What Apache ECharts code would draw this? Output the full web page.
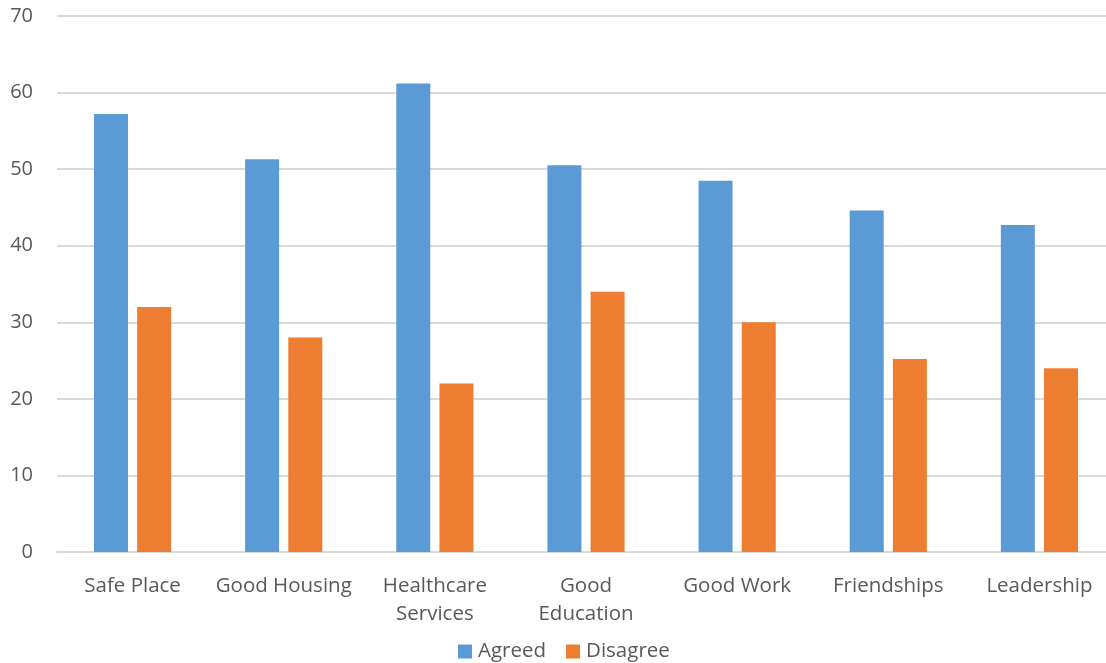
<!DOCTYPE html>
<html>
<head>
<meta charset="utf-8">
<script src="https://cdn.jsdelivr.net/npm/echarts@6/dist/echarts.min.js"></script>
<style>
  html, body { margin: 0; padding: 0; background: #fff; overflow: hidden; }
  #chart { width: 1115px; height: 663px; }
</style>
</head>
<body>
<div id="chart"></div>
<script>
var categories = ['Safe Place', 'Good Housing', 'Healthcare\nServices', 'Good\nEducation', 'Good Work', 'Friendships', 'Leadership']
var agreed = [57.2, 51.3, 61.2, 50.5, 48.5, 44.6, 42.7]
var disagree = [32, 28, 22, 34, 30, 25.2, 24]
var yTicks = [0, 10, 20, 30, 40, 50, 60, 70]

var font = '"Open Sans", "Noto Sans", sans-serif'
var myChart = echarts.init(document.getElementById('chart'))
var option = {
  animation: false,
  textStyle: { fontFamily: font },
  grid: { left: 57, top: 16, right: 0, bottom: 111, containLabel: false },
  legend: {
    bottom: -4,
    left: 453,
    itemWidth: 14,
    itemHeight: 14,
    itemGap: 20,
    icon: 'rect',
    textStyle: { fontSize: 20.5, color: '#595959', fontFamily: font, padding: [0, 0, 0, 1] },
    data: ['Agreed', 'Disagree']
  },
  xAxis: {
    type: 'category',
    data: categories,
    axisTick: { show: false },
    axisLine: { lineStyle: { color: '#D9D9D9', width: 2 } },
    axisLabel: { fontSize: 20.5, color: '#595959', margin: 20, lineHeight: 28, fontFamily: font, interval: 0 }
  },
  yAxis: {
    type: 'value',
    min: yTicks[0],
    max: yTicks[yTicks.length - 1],
    interval: 10,
    axisLine: { show: false },
    axisTick: { show: false },
    splitLine: { lineStyle: { color: '#D9D9D9', width: 2 } },
    axisLabel: { fontSize: 20, color: '#595959', margin: 24, fontFamily: font }
  },
  series: [
    {
      name: 'Agreed', type: 'bar', data: agreed,
      barWidth: 34, barGap: '27%',
      itemStyle: { color: '#5B9BD5' }
    },
    {
      name: 'Disagree', type: 'bar', data: disagree,
      barWidth: 34,
      itemStyle: { color: '#ED7D31' }
    }
  ]
}
myChart.setOption(option, true)
</script>
</body>
</html>
